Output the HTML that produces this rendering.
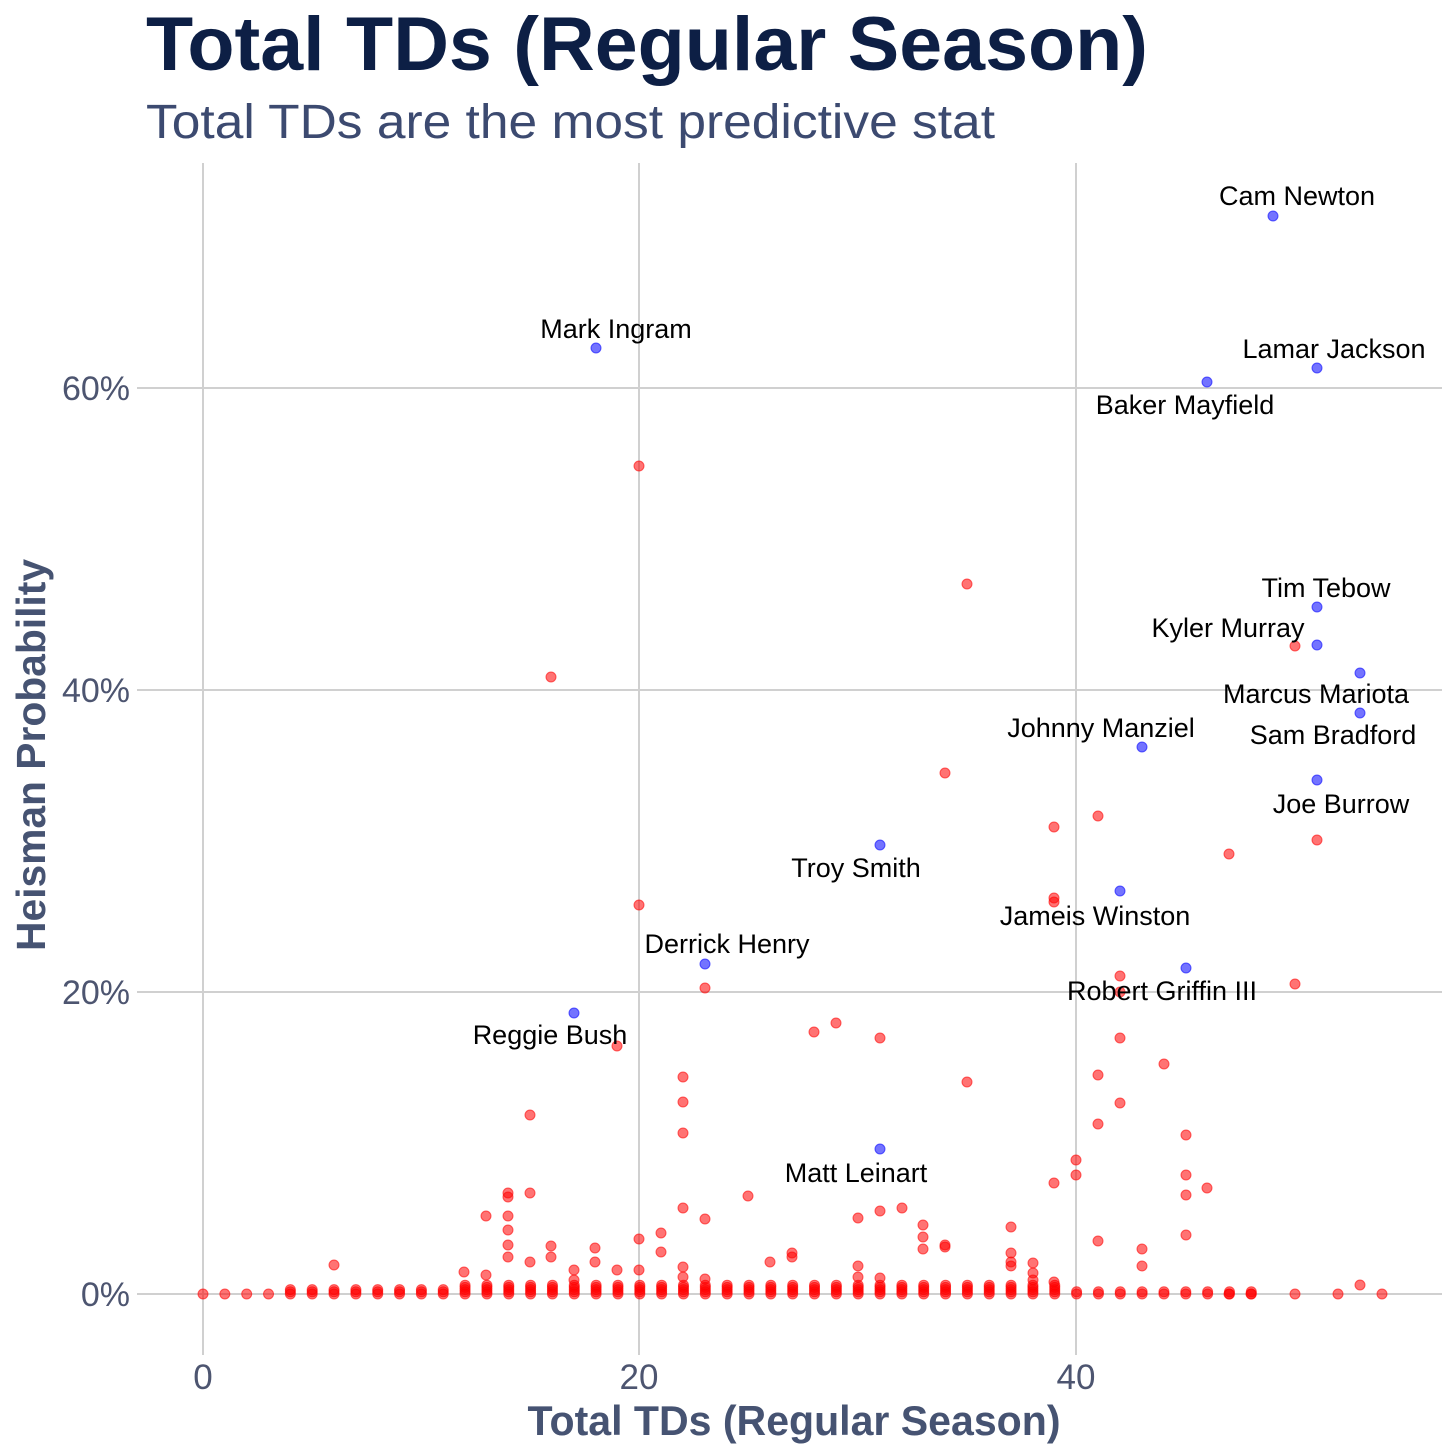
<!DOCTYPE html>
<html><head><meta charset="utf-8"><style>
html,body{margin:0;padding:0;background:#fff;}
svg{display:block;font-family:"Liberation Sans",Arial,sans-serif;}
</style></head><body>
<svg id="s" width="1456" height="1456" viewBox="0 0 1456 1456" xmlns="http://www.w3.org/2000/svg">
<text x="146" y="70" font-size="76" font-weight="bold" fill="#0d1f45" textLength="1002" lengthAdjust="spacingAndGlyphs">Total TDs (Regular Season)</text>
<text x="146" y="138" font-size="48" fill="#3c4a70" textLength="849" lengthAdjust="spacingAndGlyphs">Total TDs are the most predictive stat</text>
<g stroke="#d0d0d0" stroke-width="2">
<line x1="203" y1="163" x2="203" y2="1355"/><line x1="639" y1="163" x2="639" y2="1355"/><line x1="1076" y1="163" x2="1076" y2="1355"/>
<line x1="137" y1="388" x2="1442" y2="388"/><line x1="137" y1="690" x2="1442" y2="690"/><line x1="137" y1="992" x2="1442" y2="992"/><line x1="137" y1="1294" x2="1442" y2="1294"/>
</g>
<g font-size="35" fill="#4d5570">
<text x="203" y="1389" text-anchor="middle">0</text><text x="639" y="1389" text-anchor="middle">20</text><text x="1076" y="1389" text-anchor="middle">40</text>
</g>
<g font-size="34" fill="#4d5570" text-anchor="end">
<text x="130" y="1306">0%</text><text x="130" y="1004">20%</text><text x="130" y="702">40%</text><text x="130" y="400">60%</text>
</g>
<text x="794" y="1435" font-size="42" font-weight="bold" fill="#465372" text-anchor="middle" textLength="533" lengthAdjust="spacingAndGlyphs">Total TDs (Regular Season)</text>
<text transform="translate(45,755) rotate(-90)" font-size="41" font-weight="bold" fill="#465372" text-anchor="middle" textLength="392" lengthAdjust="spacingAndGlyphs">Heisman Probability</text>
<g id="pts"></g>
<g font-size="27" fill="#000" text-anchor="middle">
<text x="1297" y="205">Cam Newton</text>
<text x="616" y="338">Mark Ingram</text>
<text x="1334" y="358">Lamar Jackson</text>
<text x="1185" y="414">Baker Mayfield</text>
<text x="1326" y="597">Tim Tebow</text>
<text x="1228" y="637">Kyler Murray</text>
<text x="1316" y="703">Marcus Mariota</text>
<text x="1333" y="744">Sam Bradford</text>
<text x="1101" y="737">Johnny Manziel</text>
<text x="1341" y="813">Joe Burrow</text>
<text x="856" y="877">Troy Smith</text>
<text x="1095" y="925">Jameis Winston</text>
<text x="727" y="953">Derrick Henry</text>
<text x="1162" y="1000">Robert Griffin III</text>
<text x="550" y="1044">Reggie Bush</text>
<text x="856" y="1182">Matt Leinart</text>
</g>
</svg>
<script>
var g=document.getElementById('pts'),NS='http://www.w3.org/2000/svg';
function c(x,y,col){var e=document.createElementNS(NS,'circle');e.setAttribute('cx',x);e.setAttribute('cy',y);e.setAttribute('r',5);
e.setAttribute('fill',col);e.setAttribute('fill-opacity',0.55);e.setAttribute('stroke',col);e.setAttribute('stroke-opacity',0.6);e.setAttribute('stroke-width',1);g.appendChild(e);}
var red=[[639,466],[967,584],[551,677],[1295,646],[945,773],[1098,816],[1054,827],[1229,854],[1317,840],[1054,898],[1054,902],[639,905],[705,988],[1120,976],[1120,992],[1295,984],[814,1032],[836,1023],[880,1038],[617,1046],[1120,1038],[1164,1064],[967,1082],[683,1077],[683,1102],[683,1133],[530,1115],[1098,1075],[1120,1103],[1098,1124],[1186,1135],[1076,1160],[1076,1175],[1054,1183],[1186,1175],[1186,1195],[1207,1188],[748,1196],[683,1208],[705,1219],[858,1218],[880,1211],[902,1208],[923,1225],[923,1237],[923,1249],[945,1247],[1011,1227],[1098,1241],[1142,1249],[1142,1266],[1186,1235],[486,1216],[508,1216],[530,1193],[508,1193],[508,1197],[508,1230],[508,1245],[508,1257],[530,1262],[551,1246],[551,1257],[639,1239],[661,1233],[661,1252],[639,1270],[595,1248],[595,1262],[617,1270],[574,1270],[574,1280],[464,1272],[486,1275],[334,1265],[792,1253],[792,1257],[770,1262],[683,1267],[683,1277],[705,1279],[858,1266],[858,1277],[880,1278],[945,1245],[1011,1253],[1011,1262],[1011,1266],[1033,1263],[1033,1273],[1054,1282],[1033,1280],[1360,1285],[1338,1294],[1382,1294],[1295,1294],[1229,1294],[1251,1294]];
for(var t=0;t<=48;t++){var x=203+t*21.84;var n=t<4?1:(t<12?3:(t<40?5:2));for(var k=0;k<n;k++)c(x,1294-k*2.2,'#ff0000');}
red.forEach(function(p){c(p[0],p[1],'#ff0000');});
var blue=[[1273,216],[596,348],[1317,368],[1207,382],[1317,607],[1317,645],[1360,673],[1360,713],[1142,747],[1317,780],[880,845],[1120,891],[705,964],[1186,968],[574,1013],[880,1149]];
blue.forEach(function(p){c(p[0],p[1],'#0000ff');});
</script>
</body></html>
